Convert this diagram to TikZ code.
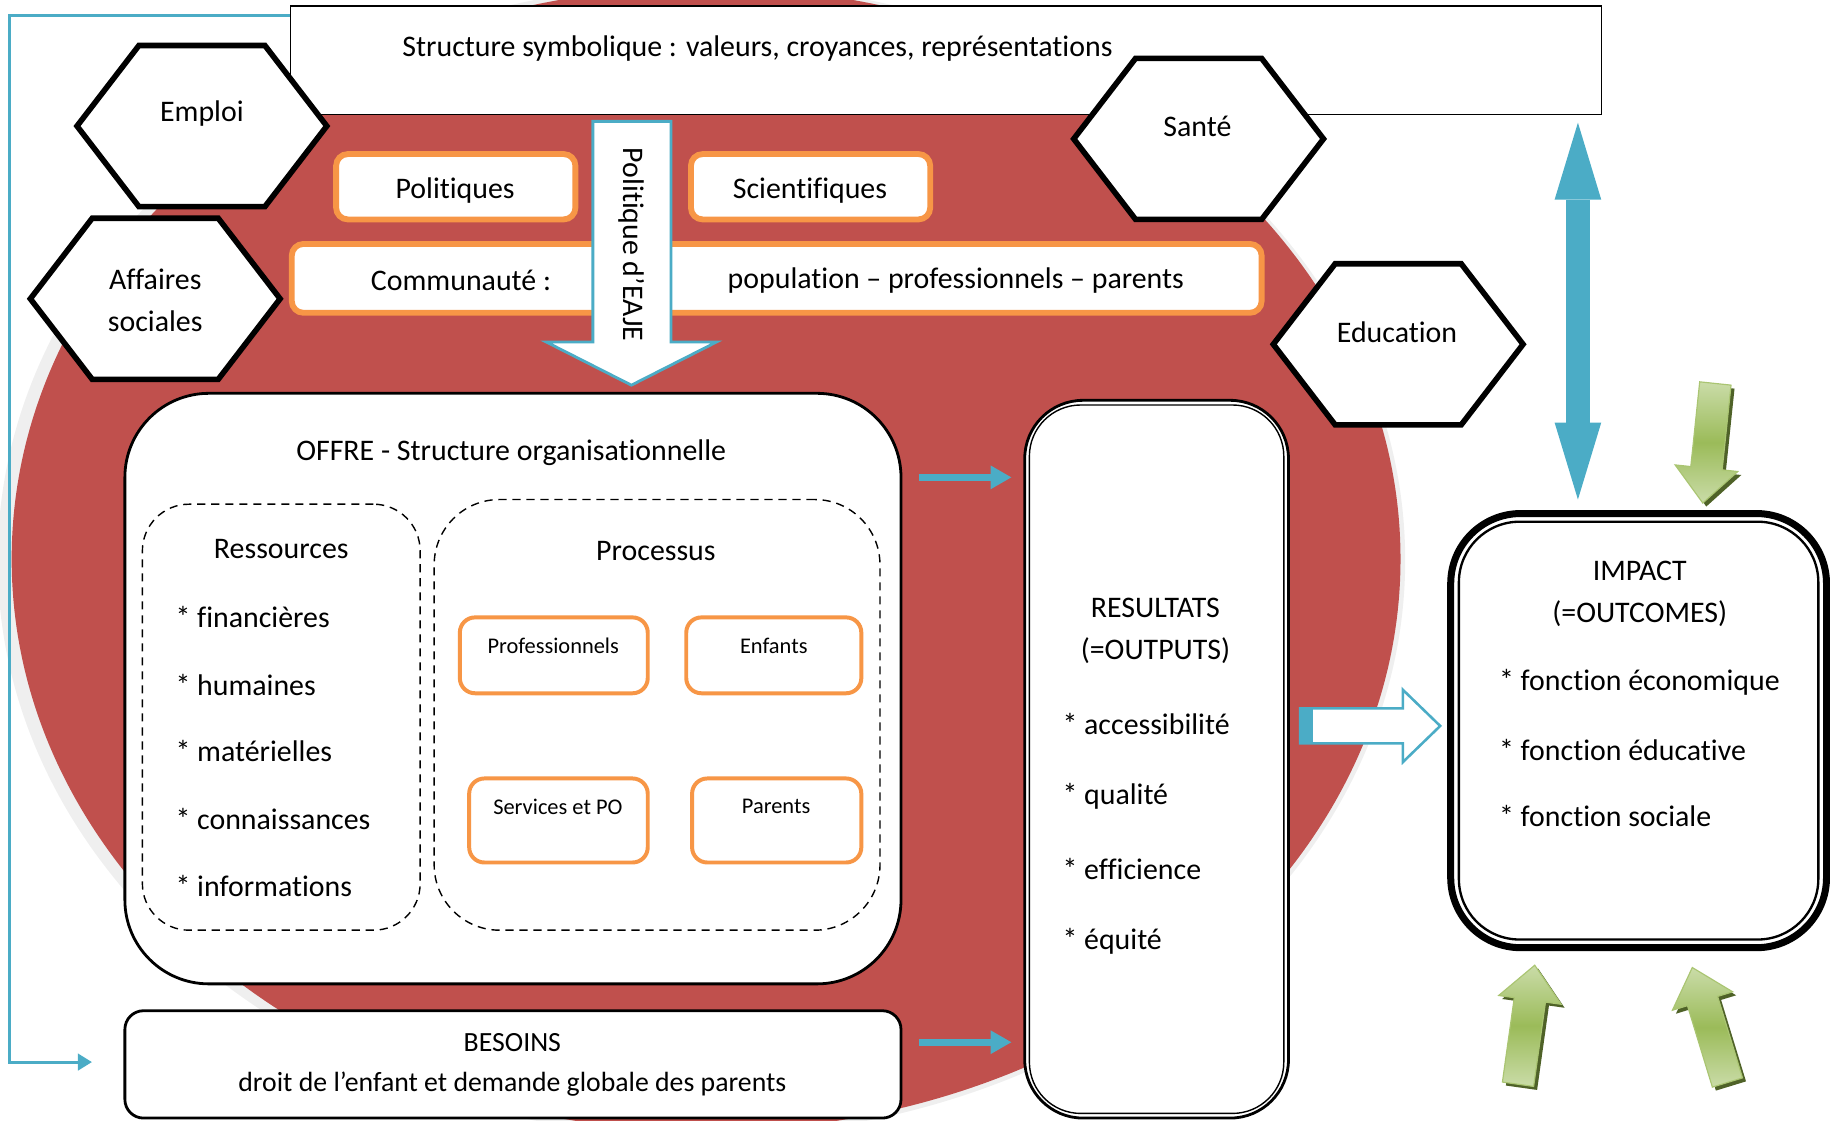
\documentclass[tikz,border=0pt]{standalone}
\usepackage{fontspec}
\setmainfont{Carlito}[Ligatures=NoCommon]
\usetikzlibrary{arrows.meta,fit}

\definecolor{ovred}{HTML}{C0504D}
\definecolor{ovshadow}{HTML}{EFEFEF}
\definecolor{ovcyan}{HTML}{4BACC6}
\definecolor{ovorange}{HTML}{F79646}
\definecolor{ovgreen}{HTML}{9BBB59}
\definecolor{ovlgreen}{HTML}{CADCA8}
\definecolor{ovdgreen}{HTML}{4F6228}

\tikzset{
  lbl/.style={font=\fontsize{12.8}{18}\selectfont, inner sep=0pt, align=center, yshift=-0.75pt},
  sml/.style={font=\fontsize{9.6}{12}\selectfont, inner sep=0pt},
  hexa/.style={draw=black, line width=2.4pt, fill=white},
  orbox/.style={draw=ovorange, line width=2.5pt, fill=white, rounded corners=5pt, inner sep=0pt},
  orsmall/.style={draw=ovorange, line width=1.7pt, fill=white, rounded corners=6.5pt, inner sep=0pt},
  wbox/.style={draw=black, line width=1.2pt, fill=white, inner sep=0pt},
  dashbox/.style={draw=black, line width=0.6pt, dash pattern=on 3.5pt off 2.5pt, inner sep=0pt},
  cyanarrow/.style={draw=ovcyan, line width=2.8pt, -{Triangle[width=9.5pt,length=9pt]}},
  greenarrow/.style={top color=ovlgreen, bottom color=ovlgreen, middle color=ovgreen, draw=ovgreen!85!white, line width=0.5pt},
}

\begin{document}
\begin{tikzpicture}[x=0.5pt, y=-0.5pt]
  \useasboundingbox (0,0) rectangle (1568,960);

  % fond : ellipse rouge et son ombre
  \fill[ovshadow] (601,480) ellipse [x radius=603, y radius=494];
  \fill[ovred] (605,479) ellipse [x radius=595, y radius=490];

  % structure symbolique
  \node[fit={(249,5) (1372,98)}, draw, line width=0.6pt, fill=white, inner sep=0pt] (symb) {};
  \node[lbl] (symbtxt) at (649,40) {Structure symbolique : valeurs, croyances, représentations};

  % hexagones
  \foreach \cx/\cy in {173/108, 133/256, 1027/119, 1198/295}
    \filldraw[hexa] (\cx-107,\cy) -- (\cx-54,\cy-69) -- (\cx+54,\cy-69) -- (\cx+107,\cy)
      -- (\cx+54,\cy+69) -- (\cx-54,\cy+69) -- cycle;
  \node[lbl] (emploi) at (173,96) {Emploi};
  \node[lbl] (affaires) at (133,256) {Affaires\\sociales};
  \node[lbl] (sante) at (1026,107) {Santé};
  \node[lbl] (education) at (1197,283) {Education};

  % acteurs
  \node[orbox, fit={(288,132) (493,188)}] (politiques) {};
  \node[lbl] (politxt) at (390,162) {Politiques};
  \node[orbox, fit={(592,132) (797,188)}] (scientifiques) {};
  \node[lbl] (scitxt) at (694,162) {Scientifiques};
  \node[orbox, fit={(250,209) (1081,268)}] (communaute) {};
  \node[lbl] (commtxt) at (395,239) {Communauté :};
  \node[lbl] (poptxt) at (819,239) {population – professionnels – parents};

  % fleche politique d'EAJE
  \filldraw[fill=white, draw=ovcyan, line width=1.2pt] (508,104) -- (575,104) -- (575,293)
    -- (614,293) -- (541,330) -- (468,293) -- (508,293) -- cycle;
  \node[lbl, rotate=-90] (eaje) at (541,208) {Politique d’EAJE};

  % offre
  \node[wbox, rounded corners=36pt, fit={(107,337) (772,843)}] (offre) {};
  \node[lbl] (offretxt) at (438,386) {OFFRE - Structure organisationnelle};
  \node[dashbox, rounded corners=20pt, fit={(122,432) (360,797)}] (ressources) {};
  \node[lbl] (restxt) at (241,469) {Ressources};
  \node[lbl, anchor=west] (res1) at (150,527) {* financières};
  \node[lbl, anchor=west] (res2) at (150,585) {* humaines};
  \node[lbl, anchor=west] (res3) at (150,642) {* matérielles};
  \node[lbl, anchor=west] (res4) at (150,700) {* connaissances};
  \node[lbl, anchor=west] (res5) at (150,758) {* informations};
  \node[dashbox, rounded corners=28pt, fit={(372,428) (754,797)}] (processus) {};
  \node[lbl] (proctxt) at (562,471) {Processus};
  \node[orsmall, fit={(394,529) (555,594)}] (profs) {};
  \node[sml] (profstxt) at (474,553) {Professionnels};
  \node[orsmall, fit={(588,529) (738,594)}] (enfants) {};
  \node[sml] (enftxt) at (663,553) {Enfants};
  \node[orsmall, fit={(402,667) (555,739)}] (services) {};
  \node[sml] (servtxt) at (478,691) {Services et PO};
  \node[orsmall, fit={(593,667) (738,739)}] (parents) {};
  \node[sml] (partxt) at (665,691) {Parents};

  % besoins
  \node[wbox, rounded corners=8pt, fit={(107,866) (772,958)}] (besoins) {};
  \node[lbl, font=\fontsize{11.9}{17}\selectfont] (besoinstxt) at (439,911) {BESOINS\\droit de l’enfant et demande globale des parents};

  % resultats
  \node[wbox, rounded corners=25pt, fit={(878,343) (1104,958)}] (resultats) {};
  \draw[line width=0.6pt, rounded corners=22pt] (882,347) rectangle (1100,954);
  \node[lbl] (restitre) at (990,539) {RESULTATS\\(=OUTPUTS)};
  \node[lbl, anchor=west] (out1) at (910,619) {* accessibilité};
  \node[lbl, anchor=west] (out2) at (910,681) {* qualité};
  \node[lbl, anchor=west] (out3) at (910,743) {* efficience};
  \node[lbl, anchor=west] (out4) at (910,805) {* équité};

  % impact
  \node[fit={(1243,440) (1565,812)}, draw, line width=3pt, fill=white, rounded corners=30pt, inner sep=0pt] (impact) {};
  \draw[line width=1pt, rounded corners=26pt] (1250,447) rectangle (1558,805);
  \node[lbl] (impacttxt) at (1405,507) {IMPACT\\(=OUTCOMES)};
  \node[lbl, anchor=west] (fct1) at (1284,583) {* fonction économique};
  \node[lbl, anchor=west] (fct2) at (1284,641) {* fonction éducative};
  \node[lbl, anchor=west] (fct3) at (1284,698) {* fonction sociale};

  % connecteurs
  \coordinate (row1) at (0,409);
  \coordinate (row2) at (0,893);
  \coordinate (fbtop) at (8,13);
  \coordinate (fbrow) at (0,910);
  \coordinate (dblx) at (1352,0);
  \draw[cyanarrow, shorten <=7pt, shorten >=5pt] (offre.east |- row1) -- (resultats.west |- row1);
  \draw[cyanarrow, shorten <=7pt, shorten >=5pt] (besoins.east |- row2) -- (resultats.west |- row2);
  \draw[ovcyan, line width=1.3pt, -{Triangle[width=7pt,length=6pt]}, shorten >=13.5pt]
    (symb.west |- fbtop) -- (fbtop) |- (besoins.west |- fbrow);
  \draw[ovcyan, line width=10pt,
    {Triangle[width=20pt,length=33pt,line width=0pt 0]}-{Triangle[width=20pt,length=33pt,line width=0pt 0]},
    shorten <=3.25pt, shorten >=4.5pt] (symb.south -| dblx) -- (impact.north -| dblx);

  % fleche creuse resultats -> impact
  \filldraw[fill=white, draw=ovcyan, line width=1.1pt] (1114,607) -- (1202,607) -- (1202,591)
    -- (1234,622) -- (1202,653) -- (1202,637) -- (1114,637) -- cycle;
  \fill[ovcyan] (1114,607) rectangle (1125,637);

  % fleches vertes
  \foreach \tx/\ty/\ang in {1459/431/174, 1315/827/-8, 1450/829/17} {
    \fill[ovdgreen, shift={(\tx+3,\ty+3)}, rotate=\ang] (0,0) -- (27,30) -- (13.5,30) -- (13.5,103)
      -- (-13.5,103) -- (-13.5,30) -- (-27,30) -- cycle;
    \shade[greenarrow, shift={(\tx,\ty)}, rotate=\ang] (0,0) -- (27,30) -- (13.5,30) -- (13.5,103)
      -- (-13.5,103) -- (-13.5,30) -- (-27,30) -- cycle;
  }
\end{tikzpicture}
\end{document}
